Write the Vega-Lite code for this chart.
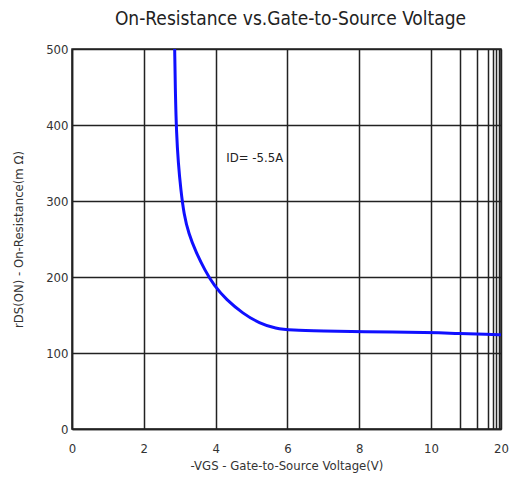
{
  "$schema": "https://vega.github.io/schema/vega-lite/v6.json",
  "width": 429,
  "height": 380,
  "autosize": "none",
  "padding": {"left": 72, "top": 49, "right": 16, "bottom": 64},
  "background": "white",
  "title": {"text": "On-Resistance vs.Gate-to-Source Voltage", "font": "DejaVu Sans Condensed, Liberation Sans, sans-serif", "fontSize": 19, "fontWeight": "normal", "color": "#222", "anchor": "middle", "offset": 14, "dx": 4},
  "config": {
    "view": {"stroke": "#222", "strokeWidth": 1.5},
    "axis": {"labelFont": "DejaVu Sans Condensed, Liberation Sans, sans-serif", "labelFontSize": 13, "labelColor": "#333", "titleFont": "DejaVu Sans Condensed, Liberation Sans, sans-serif", "titleFontSize": 13, "titleFontWeight": "normal", "titleColor": "#333", "gridColor": "#222", "gridWidth": 1.5, "gridOpacity": 1, "domainColor": "#222", "domainWidth": 1.5, "ticks": false, "labelOverlap": false, "labelFlush": false}
  },
  "datasets": {
    "curve": [
      {"v": 2.86, "r": 500}, {"v": 2.88, "r": 440}, {"v": 2.91, "r": 390}, {"v": 2.96, "r": 350},
      {"v": 3.03, "r": 315}, {"v": 3.12, "r": 282}, {"v": 3.25, "r": 257}, {"v": 3.45, "r": 233},
      {"v": 3.7, "r": 209}, {"v": 3.95, "r": 189}, {"v": 4.3, "r": 170}, {"v": 4.76, "r": 152},
      {"v": 5.22, "r": 139}, {"v": 5.68, "r": 132}, {"v": 6.1, "r": 130}, {"v": 7.0, "r": 129},
      {"v": 8.0, "r": 128}, {"v": 10.0, "r": 127}, {"v": 12.0, "r": 125.5}, {"v": 16.0, "r": 124.5},
      {"v": 20.0, "r": 124}
    ],
    "note": [{"v": 4.3, "r": 357}]
  },
  "layer": [
    {
      "data": {"name": "curve"},
      "mark": {"type": "line", "color": "#1010ff", "strokeWidth": 3, "interpolate": "basis"},
      "encoding": {
        "x": {"field": "v", "type": "quantitative",
          "scale": {"domain": [0, 10, 12, 14, 16, 17, 18, 19, 20], "range": [0, 359, 388, 405, 416, 421, 424, 427, 429]},
          "axis": {"values": [0, 2, 4, 6, 8, 10, 12, 14, 16, 17, 18, 19, 20], "tickCount": 100, "format": "d", "labelExpr": "datum.value <= 10 || datum.value == 20 ? datum.label : ''", "title": "-VGS - Gate-to-Source Voltage(V)", "labelPadding": 13, "titlePadding": 4, "grid": true}},
        "y": {"field": "r", "type": "quantitative",
          "scale": {"domain": [0, 500], "nice": false},
          "axis": {"values": [0, 100, 200, 300, 400, 500], "title": "rDS(ON) - On-Resistance(m Ω)", "labelPadding": 4, "titlePadding": 20, "grid": true}}
      }
    },
    {
      "data": {"name": "note"},
      "mark": {"type": "text", "font": "DejaVu Sans Condensed, Liberation Sans, sans-serif", "fontSize": 13, "color": "#222", "align": "left"},
      "encoding": {
        "x": {"field": "v", "type": "quantitative"},
        "y": {"field": "r", "type": "quantitative"},
        "text": {"value": "ID= -5.5A"}
      }
    }
  ]
}
